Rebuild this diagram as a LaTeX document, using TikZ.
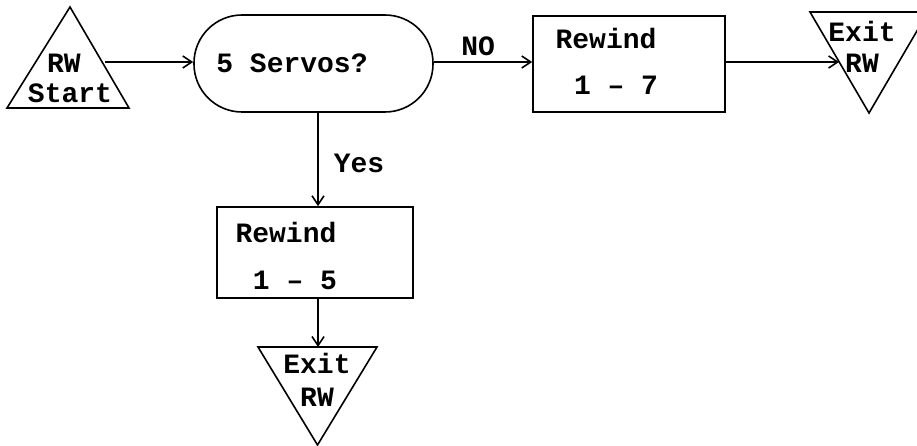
\documentclass[tikz,border=0pt]{standalone}
\usepackage{fontspec}
\newfontfamily\tw{Liberation Mono}
\usetikzlibrary{arrows.meta}
\begin{document}
\begin{tikzpicture}[x=1pt,y=-1pt,
  line width=1.6pt,
  lbl/.style={font=\tw\bfseries\fontsize{28}{28}\selectfont, inner sep=0pt, anchor=center},
  flow/.style={-{Straight Barb[length=9pt,width=12pt,line width=1.6pt]}},
  boxs/.style={draw, rectangle, minimum width=#1, minimum height=96pt, inner sep=0pt},
  term/.style={draw, rectangle, rounded corners=48pt, minimum width=239pt, minimum height=97pt, inner sep=0pt}
]
\useasboundingbox (0,0) rectangle (917,446);
\clip (0,0) rectangle (917,446);
% start triangle
\draw (70,7) -- (129,108) -- (7,108) -- cycle;
\coordinate (startout) at (105,62);
\node[lbl] (s1) at (64,63) {RW};
\node[lbl] (s2) at (70,93) {Start};
% decision terminator
\node[term] (dec) at (313.5,63.5) {};
\node[lbl] (dtext) at (292,63) {5 Servos?};
% rewind 1-7
\node[boxs=192pt] (r7) at (629,64) {};
\node[lbl] (r7a) at (606,38) {Rewind};
\node[lbl] (r7b) at (616,85) {1 – 7};
% exit right triangle
\draw (810,12) -- (928,12) -- (869,113) -- cycle;
\coordinate (exit1in) at (839,62);
\node[lbl] (e1a) at (862,31) {Exit};
\node[lbl] (e1b) at (862,63) {RW};
% rewind 1-5
\node[boxs=196pt, minimum height=91pt] (r5) at (315,252.5) {};
\node[lbl] (r5a) at (286,232) {Rewind};
\node[lbl] (r5b) at (295,280) {1 – 5};
% exit bottom triangle
\draw (258,347) -- (377,347) -- (317.5,445) -- cycle;
\coordinate (exit2in) at (318,347);
\node[lbl] (e2a) at (317,363) {Exit};
\node[lbl] (e2b) at (317,397) {RW};
% connectors
\draw[flow] (startout) -- (dec.west |- startout);
\draw[flow] (dec.east |- startout) -- (r7.west |- startout) node[lbl, pos=0.45, above=5pt] (no) {NO};
\draw[flow] (r7.east |- startout) -- (exit1in);
\draw[flow] (dec.south -| exit2in) -- (r5.north -| exit2in);
\node[lbl] (yes) at (359,163) {Yes};
\draw[flow] (r5.south -| exit2in) -- (exit2in);
\end{tikzpicture}
\end{document}
